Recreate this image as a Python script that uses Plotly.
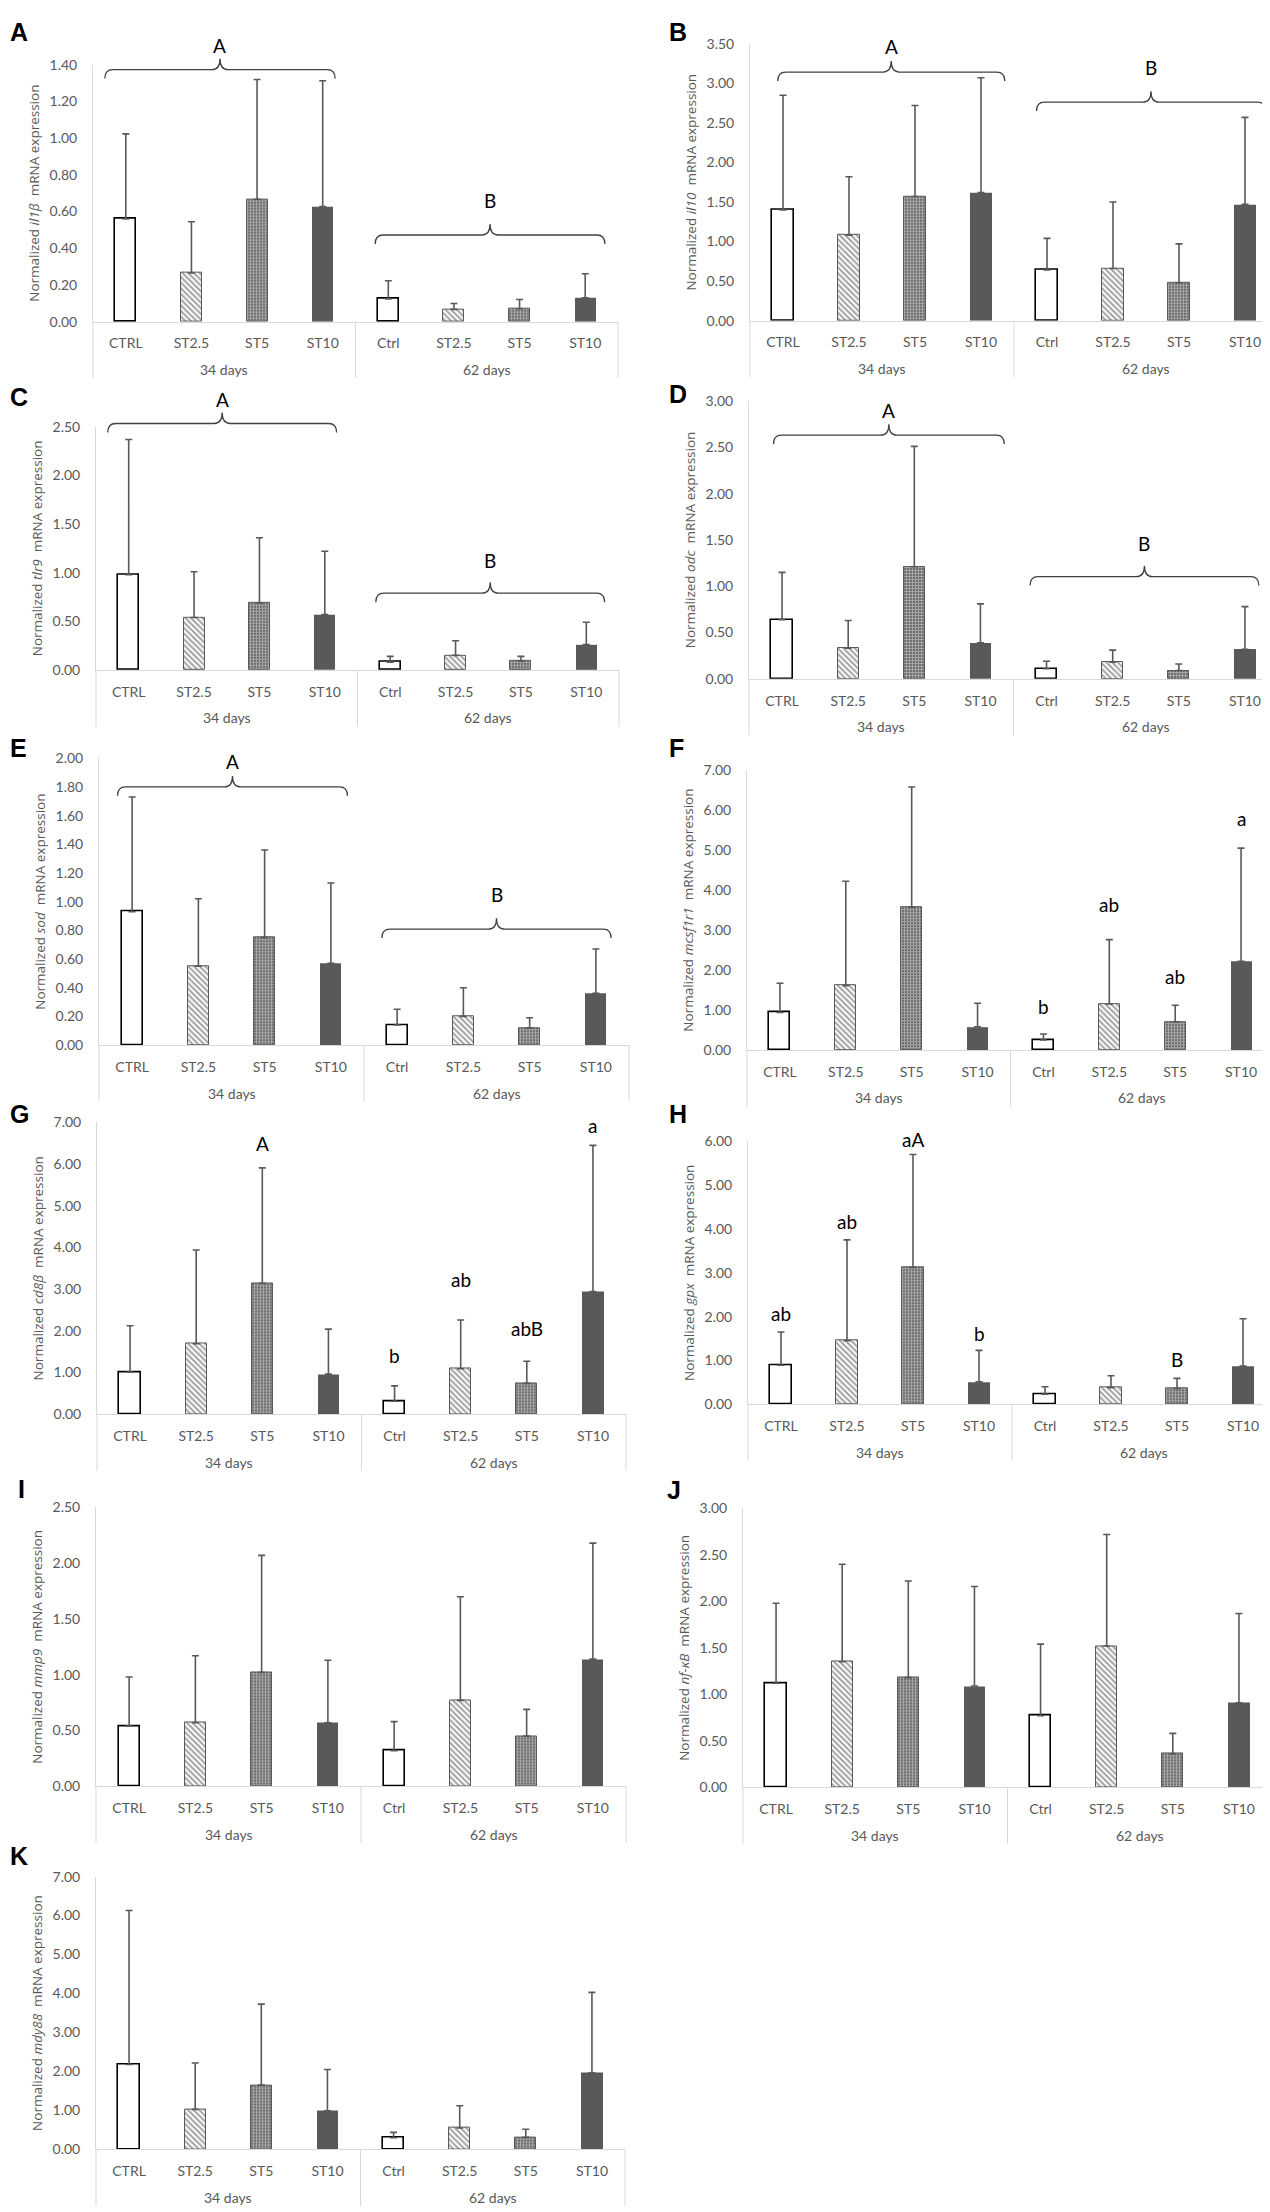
import plotly.graph_objects as go

# --------------------------------------------------------------- #
#### Data ####
# --------------------------------------------------------------- #
groups = ["34 days", "62 days"]
group_sizes = [4, 4]
treatments = ["CTRL", "ST2.5", "ST5", "ST10", "Ctrl", "ST2.5", "ST5", "ST10"]

il1b_mean = [0.56, 0.265, 0.667, 0.627, 0.124, 0.067, 0.070, 0.130]
il1b_sd = [0.463, 0.279, 0.652, 0.685, 0.099, 0.032, 0.051, 0.131]

il10_mean = [1.40, 1.08, 1.57, 1.62, 0.64, 0.66, 0.48, 1.47]
il10_sd = [1.45, 0.74, 1.15, 1.45, 0.40, 0.84, 0.49, 1.10]

tlr9_mean = [0.98, 0.54, 0.69, 0.57, 0.08, 0.15, 0.09, 0.26]
tlr9_sd = [1.39, 0.47, 0.67, 0.65, 0.06, 0.15, 0.05, 0.23]

odc_mean = [0.64, 0.33, 1.21, 0.39, 0.11, 0.18, 0.09, 0.32]
odc_sd = [0.51, 0.30, 1.30, 0.42, 0.08, 0.13, 0.07, 0.46]

sod_mean = [0.93, 0.55, 0.75, 0.57, 0.14, 0.20, 0.12, 0.36]
sod_sd = [0.80, 0.47, 0.61, 0.56, 0.11, 0.20, 0.07, 0.31]

mcsf1r1_mean = [0.94, 1.61, 3.57, 0.58, 0.25, 1.15, 0.70, 2.22]
mcsf1r1_sd = [0.73, 2.61, 3.01, 0.59, 0.15, 1.61, 0.42, 2.83]

cd8b_mean = [1.01, 1.69, 3.14, 0.96, 0.31, 1.09, 0.74, 2.94]
cd8b_sd = [1.11, 2.25, 2.77, 1.08, 0.37, 1.17, 0.53, 3.51]

gpx_mean = [0.89, 1.45, 3.12, 0.51, 0.23, 0.38, 0.36, 0.87]
gpx_sd = [0.76, 2.30, 2.58, 0.72, 0.17, 0.27, 0.23, 1.08]

mmp9_mean = [0.54, 0.57, 1.02, 0.57, 0.32, 0.77, 0.45, 1.14]
mmp9_sd = [0.44, 0.60, 1.05, 0.56, 0.26, 0.93, 0.24, 1.04]

nfkb_mean = [1.12, 1.35, 1.18, 1.09, 0.77, 1.52, 0.36, 0.91]
nfkb_sd = [0.86, 1.05, 1.04, 1.07, 0.77, 1.20, 0.22, 0.96]

myd88_mean = [2.18, 1.03, 1.65, 0.99, 0.30, 0.55, 0.31, 1.97]
myd88_sd = [3.95, 1.19, 2.08, 1.06, 0.14, 0.57, 0.21, 2.06]

# brackets: (from idx, to idx, level, label height, text)
brackets_A = [(-0.32, 3.19, 1.373, 1.505, "A"), (3.80, 7.30, 0.472, 0.658, "B")]
brackets_B = [(-0.08, 3.36, 3.143, 3.466, "A"), (3.84, 7.31, 2.762, 3.194, "B")]
brackets_C = [(-0.32, 3.18, 2.534, 2.78, "A"), (3.78, 7.28, 0.789, 1.122, "B")]
brackets_D = [(-0.13, 3.36, 2.632, 2.90, "A"), (3.75, 7.21, 1.104, 1.464, "B")]
brackets_E = [(-0.22, 3.25, 1.80, 1.98, "A"), (3.77, 7.23, 0.808, 1.052, "B")]

# letters over single bars: (idx, height, text)
letters_F = [(4, 1.08, "b"), (5, 3.63, "ab"), (6, 1.83, "ab"), (7, 5.78, "a")]
letters_G = [(2, 6.5, "A"), (4, 1.40, "b"), (5, 3.22, "ab"), (6, 2.06, "abB"),
             (7, 6.93, "a")]
letters_H = [(0, 2.07, "ab"), (1, 4.17, "ab"), (2, 6.04, "aA"), (3, 1.61, "b"),
             (6, 1.02, "B")]

# --------------------------------------------------------------- #
#### Panels ####
# --------------------------------------------------------------- #
# name, gene, mean, sd, ymax, dtick, brackets, letters,
# x0 px, x1 px, top px, zero px, label x px, label y px
panels = [
    ("A", "il1β", il1b_mean, il1b_sd, 1.4, 0.2, brackets_A, [], 85, 610, 48, 307, 0, 15),
    ("B", "il10", il10_mean, il10_sd, 3.5, 0.5, brackets_B, [], 742, 1270, 27, 306, 659, 15),
    ("C", "tlr9", tlr9_mean, tlr9_sd, 2.5, 0.5, brackets_C, [], 88, 611, 413, 658, 0, 383),
    ("D", "odc", odc_mean, odc_sd, 3.0, 0.5, brackets_D, [], 741, 1270, 387, 667, 659, 380),
    ("E", "sod", sod_mean, sod_sd, 2.0, 0.2, brackets_E, [], 91, 621, 747, 1036, 0, 737),
    ("F", "mcsf1r1", mcsf1r1_mean, mcsf1r1_sd, 7.0, 1.0, [], letters_F, 739, 1266, 759, 1041, 659, 737),
    ("G", "cd8β", cd8b_mean, cd8b_sd, 7.0, 1.0, [], letters_G, 89, 618, 1114, 1408, 0, 1105),
    ("H", "gpx", gpx_mean, gpx_sd, 6.0, 1.0, [], letters_H, 740, 1268, 1133, 1398, 659, 1105),
    ("I", "mmp9", mmp9_mean, mmp9_sd, 2.5, 0.5, [], [], 88, 618, 1502, 1783, 8, 1483),
    ("J", "nf-κB", nfkb_mean, nfkb_sd, 3.0, 0.5, [], [], 735, 1264, 1503, 1784, 657, 1484),
    ("K", "mdy88", myd88_mean, myd88_sd, 7.0, 1.0, [], [], 88, 617, 1874, 2149, 0, 1853),
]

W, H = 1270, 2212
GRAY = "#595959"
AXIS = "#d9d9d9"
TICK_FONT = dict(family="Lato, Liberation Sans Narrow, sans-serif", size=14, color=GRAY)
LETTER_FONT = dict(family="Lato, sans-serif", size=19, color="black")

bar_fill = ["white", "white", "#4a4a4a", "#595959"] * 2
pat_shape = ["", "\\", "+", ""] * 2
pat_fg = ["black", "black", "#2a2a2a", "#595959"] * 2
pat_bg = ["white", "white", "#c8c8c8", "#595959"] * 2
pat_size = [6, 4, 3, 6] * 2
pat_solid = [0.3, 0.5, 0.7, 0.3] * 2
edge_color = ["black", "#595959", "#595959", "#595959"] * 2
edge_width = [1.6, 1, 1, 0] * 2

idx = list(range(len(treatments)))
ncat = len(treatments)


def brace_path(xa, xb, y, hook, peak, rx):
    xm = (xa + xb) / 2
    return (f"M{xa},{y - hook} Q{xa},{y} {xa + rx},{y} L{xm - rx},{y} "
            f"Q{xm},{y} {xm},{y + peak} Q{xm},{y} {xm + rx},{y} "
            f"L{xb - rx},{y} Q{xb},{y} {xb},{y - hook}")


def cat_frac(i):
    # category index -> fraction of x domain (range is -0.5 .. ncat-0.5)
    return (i + 0.5) / ncat


def label(text, x, y, xref, yref, font):
    return dict(text=text, x=x, y=y, xref=xref, yref=yref, showarrow=False,
                xanchor="center", yanchor="middle", font=font)


fig = go.Figure()
shapes = []
annotations = []

for k, p in enumerate(panels):
    (name, gene, mean, sd, ymax, dtick, brackets, letters,
     x0, x1, ytop, yzero, lx, ly) = p
    n = "" if k == 0 else str(k + 1)
    xa, ya = "x" + n, "y" + n
    xd, yd = xa + " domain", ya + " domain"
    ph = yzero - ytop
    pw = x1 - x0

    fig.add_trace(go.Bar(
        x=idx, y=mean, xaxis=xa, yaxis=ya, width=0.32,
        marker=dict(color=bar_fill,
                    line=dict(color=edge_color, width=edge_width),
                    pattern=dict(shape=pat_shape, fgcolor=pat_fg, bgcolor=pat_bg,
                                 size=pat_size, solidity=pat_solid)),
        error_y=dict(type="data", array=sd, arrayminus=[0] * len(sd),
                     symmetric=False, color=GRAY, thickness=1.6, width=3.5),
        showlegend=False, hoverinfo="skip"))

    fig.layout["xaxis" + n] = dict(
        domain=[x0 / W, x1 / W], anchor=ya, range=[-0.5, ncat - 0.5],
        tickvals=idx, ticktext=treatments, showline=True, linecolor=AXIS,
        linewidth=1, ticks="", ticklabelstandoff=9, tickfont=TICK_FONT,
        showgrid=False, zeroline=False, fixedrange=True)
    fig.layout["yaxis" + n] = dict(
        domain=[1 - yzero / H, 1 - ytop / H], anchor=xa,
        range=[0, ymax], dtick=dtick, tick0=0, tickformat=".2f",
        showline=True, linecolor=AXIS, linewidth=1, showgrid=False,
        zeroline=False, ticks="", ticklabelstandoff=12, tickfont=TICK_FONT,
        title=dict(text=f"Normalized <i>{gene}</i>  mRNA expression", standoff=6,
                   font=dict(family="Open Sans, sans-serif", size=13.5, color=GRAY)))

    # group dividers and group labels under the category labels
    start = 0
    bounds = [0]
    for g, size in zip(groups, group_sizes):
        ann = label(g, cat_frac(start + (size - 1) / 2), 0, xd, yd, TICK_FONT)
        ann["yshift"] = -48
        annotations.append(ann)
        start += size
        bounds.append(start)
    for b in bounds:
        shapes.append(dict(
            type="line", xref=xd, yref=yd, x0=cat_frac(b - 0.5), x1=cat_frac(b - 0.5),
            y0=0, y1=-57 / ph, line=dict(color=AXIS, width=1)))

    # panel letter
    annotations.append(dict(
        text=f"<b>{name}</b>", x=lx / W, y=1 - ly / H, xref="paper", yref="paper",
        xanchor="left", yanchor="middle", showarrow=False,
        font=dict(family="Liberation Sans, Arial, sans-serif", size=25, color="black")))

    for (i0, i1, lev, txt_y, txt) in brackets:
        fa, fb = cat_frac(i0), cat_frac(i1)
        shapes.append(dict(
            type="path", xref=xd, yref=yd,
            path=brace_path(fa, fb, lev / ymax, 9 / ph, 11 / ph, 8 / pw),
            line=dict(color="#404040", width=1.3)))
        annotations.append(label(txt, (fa + fb) / 2, txt_y / ymax, xd, yd, LETTER_FONT))

    for (i, yv, txt) in letters:
        annotations.append(label(txt, cat_frac(i), yv / ymax, xd, yd, LETTER_FONT))

fig.update_layout(
    width=W, height=H, margin=dict(l=0, r=0, t=0, b=0),
    paper_bgcolor="white", plot_bgcolor="white", showlegend=False,
    bargap=0, shapes=shapes, annotations=annotations)

fig.write_html("out.html")
